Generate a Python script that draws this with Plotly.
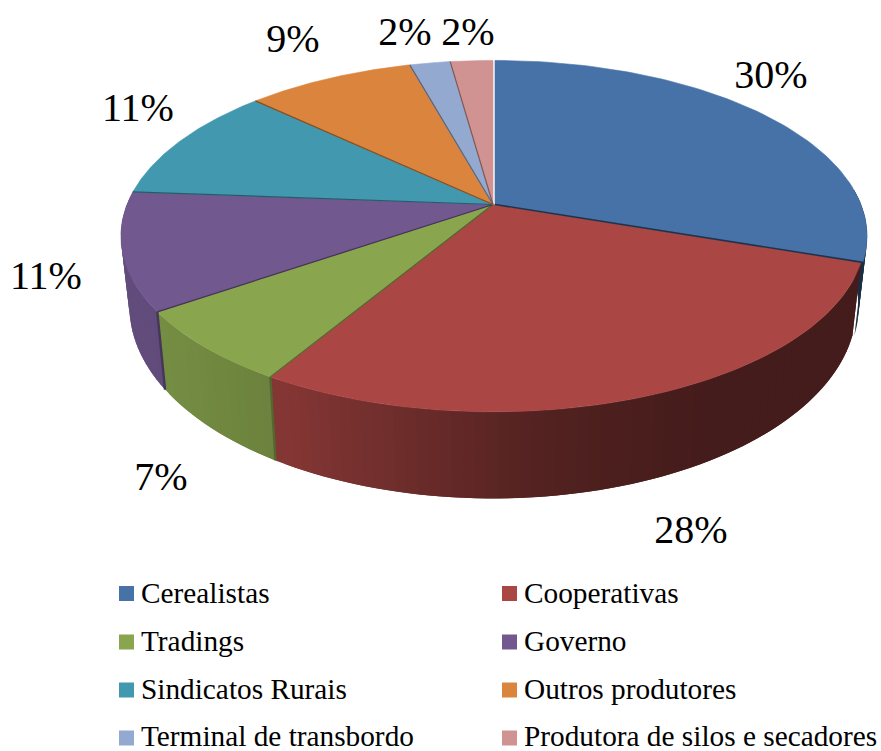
import numpy as np
import plotly.graph_objects as go

categories = ["Cerealistas", "Cooperativas", "Tradings", "Governo",
              "Sindicatos Rurais", "Outros produtores",
              "Terminal de transbordo", "Produtora de silos e secadores"]
values = [30.2, 28.4, 6.8, 10.8, 10.8, 8.7, 2.1, 2.2]
percent_labels = ["30%", "28%", "7%", "11%", "11%", "9%", "2%", "2%"]
colors = [(70, 114, 168), (170, 70, 67), (137, 165, 78), (113, 88, 143),
          (65, 152, 175), (219, 132, 61), (147, 169, 207), (209, 147, 146)]

# Layout, in page pixels
label_x = [771, 691, 161, 46, 138, 293, 405, 468]
label_y = [78, 533, 480, 279, 111, 42, 35, 35]
legend_x = [126.5, 509.5] * 4
legend_y = [593.5, 593.5, 642, 642, 690, 690, 738, 738]
legend_text_x = [141, 524] * 4
legend_text_y = [595.5, 595.5, 644, 644, 692, 692, 739, 739]

CX, CY, R, H, K = 493.0, 204.5, 366.0, 170.0, 0.18
BLUE_DX = 2.0
SHADE_X = [120, 165, 270, 495, 570, 700, 881]
SHADE_F = [0.87, 0.85, 0.78, 0.52, 0.46, 0.40, 0.40]


def top(theta, dx=0.0):
    u, v = np.sin(theta), np.cos(theta)
    s = 1 / (1 + K * v)
    return CX + dx + R * u * s, CY - H * v * s


def bottom(x, y, dx=0.0):
    return CX + dx + (x - CX - dx) * 0.977, CY + 68.0 + 1.09 * (y - CY)


def css(c, f=1.0):
    return "rgb(%d,%d,%d)" % tuple(int(round(a * f)) for a in c)


fig = go.Figure()


def poly(xs, ys, color, width=0.6):
    fig.add_trace(go.Scatter(x=xs, y=ys, mode="lines", fill="toself", fillcolor=color,
                             line=dict(color=color, width=width), hoverinfo="skip",
                             showlegend=False))


edges = np.radians(np.concatenate([[0], np.cumsum(values)]) * 3.6)

# Outer side wall: each strip reaches back one step so that no seams show
for i, c in enumerate(colors):
    dx = BLUE_DX if i == 0 else 0.0
    a0, a1 = max(edges[i], np.radians(85)), min(edges[i + 1], np.radians(275))
    if a1 <= a0:
        continue
    n = max(2, int(np.degrees(a1 - a0) / 1.5))
    t = np.linspace(a0, a1, n + 1)
    x, y = top(t, dx)
    xb, yb = bottom(x, y, dx)
    for j in range(n):
        f = np.interp((x[j] + x[j + 1]) / 2, SHADE_X, SHADE_F)
        k = max(j - 1, 0)
        seg = np.arange(k, j + 2)
        poly(np.r_[x[seg], xb[seg][::-1], x[k]], np.r_[y[seg], yb[seg][::-1], y[k]],
             css(c, f), width=0)

# Top faces
for i, c in enumerate(colors):
    dx = BLUE_DX if i == 0 else 0.0
    t = np.linspace(edges[i], edges[i + 1], 80)
    x, y = top(t, dx)
    poly(np.r_[CX + dx, x, CX + dx], np.r_[CY, y, CY], css(c))

# Thin dark walls between slices
for i in range(len(colors) - 1):
    owner = 0 if i == 0 else i + 1
    dx = BLUE_DX if i == 0 else 0.0
    x, y = top(edges[i + 1], dx)
    col = css(colors[owner], 0.45 if i == 0 else 0.6)
    fig.add_trace(go.Scatter(x=[CX + dx, x], y=[CY, y], mode="lines",
                             line=dict(color=col, width=1.6 if i == 0 else 1.2),
                             hoverinfo="skip", showlegend=False))
    if i in (1, 2):
        xb, yb = bottom(x, y)
        fig.add_trace(go.Scatter(x=[x, xb], y=[y, yb], mode="lines",
                                 line=dict(color=css(colors[owner], 0.62), width=2.4),
                                 hoverinfo="skip", showlegend=False))

# Percentage labels
fig.add_trace(go.Scatter(x=label_x, y=label_y, mode="text", text=percent_labels,
                         textposition="middle center", hoverinfo="skip", showlegend=False,
                         textfont=dict(family="Liberation Serif", size=40, color="#000000")))

# Legend
fig.add_trace(go.Scatter(x=legend_x, y=legend_y, mode="markers", hoverinfo="skip", showlegend=False,
                         marker=dict(symbol="square", size=15, color=[css(c) for c in colors],
                                     line=dict(width=0))))
fig.add_trace(go.Scatter(x=legend_text_x, y=legend_text_y, mode="text", text=categories,
                         textposition="middle right", hoverinfo="skip", showlegend=False,
                         textfont=dict(family="Liberation Serif", size=29.3, color="#000000")))

fig.update_layout(width=881, height=751, margin=dict(l=0, r=0, t=0, b=0),
                  paper_bgcolor="white", plot_bgcolor="white", showlegend=False,
                  xaxis=dict(range=[0, 881], visible=False, fixedrange=True),
                  yaxis=dict(range=[751, 0], visible=False, fixedrange=True))

fig.write_html("out.html", config={"displayModeBar": False},
               post_script="document.body.style.margin='0';document.body.style.overflow='hidden';")
